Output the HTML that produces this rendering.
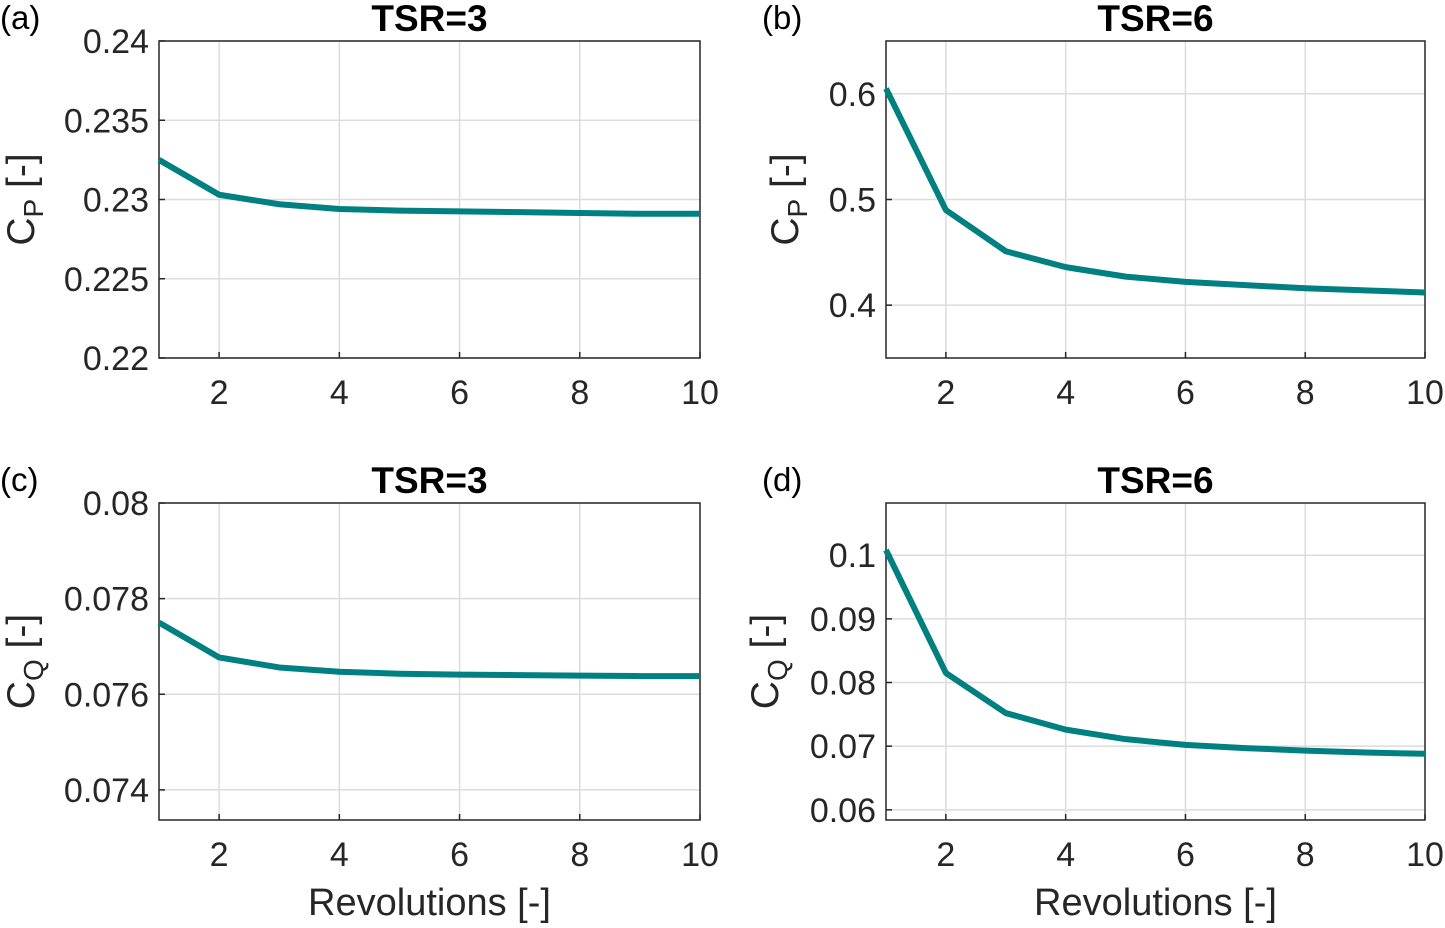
<!DOCTYPE html>
<html><head><meta charset="utf-8"><style>
body{margin:0;background:#fff;}
svg{font-family:"Liberation Sans",Arial,sans-serif;}
</style></head><body>
<svg id="chart" width="1445" height="923" xmlns="http://www.w3.org/2000/svg"></svg>
<script>
const revolutions=[1,2,3,4,5,6,7,8,9,10];
const cpTsr3=[0.2325,0.2303,0.2297,0.2294,0.2293,0.22925,0.2292,0.22915,0.2291,0.2291];
const cpTsr6=[0.605,0.490,0.451,0.436,0.427,0.422,0.419,0.416,0.414,0.412];
const cqTsr3=[0.07750,0.07677,0.07656,0.07647,0.07643,0.07641,0.07640,0.07639,0.07638,0.07638];
const cqTsr6=[0.1008,0.0815,0.0752,0.0726,0.0711,0.0702,0.0697,0.0693,0.0690,0.0688];
const xTicks=[2,4,6,8,10];
const yTicksA=[0.22,0.225,0.23,0.235,0.24];
const yTicksB=[0.4,0.5,0.6];
const yTicksC=[0.074,0.076,0.078,0.08];
const yTicksD=[0.06,0.07,0.08,0.09,0.1];
const NS="http://www.w3.org/2000/svg";
const svg=document.getElementById('chart');
function mk(t,a,p){const e=document.createElementNS(NS,t);for(const k in a)e.setAttribute(k,a[k]);(p||svg).appendChild(e);return e;}
const panels=[
 {id:'a',x0:159,x1:700,y0:41,y1:358,ymin:0.22,ymax:0.24,data:cpTsr3,ticks:yTicksA,title:'TSR=3',lab:'(a)',lx:0,q:'P',xl:false,yx:20},
 {id:'b',x0:886,x1:1425,y0:41,y1:358,ymin:0.35,ymax:0.65,data:cpTsr6,ticks:yTicksB,title:'TSR=6',lab:'(b)',lx:762,q:'P',xl:false,yx:784},
 {id:'c',x0:159,x1:700,y0:503,y1:820,ymin:0.07337,ymax:0.08,data:cqTsr3,ticks:yTicksC,title:'TSR=3',lab:'(c)',lx:0,q:'Q',xl:true,yx:20},
 {id:'d',x0:886,x1:1425,y0:503,y1:820,ymin:0.0584,ymax:0.1082,data:cqTsr6,ticks:yTicksD,title:'TSR=6',lab:'(d)',lx:762,q:'Q',xl:true,yx:764}];
panels.forEach(p=>{
 const g=mk('g',{});
 
 
 const sx=v=>p.x0+(v-1)/9*(p.x1-p.x0);
 const sy=v=>p.y1-(v-p.ymin)/(p.ymax-p.ymin)*(p.y1-p.y0);
 xTicks.forEach(t=>{const X=sx(t);
  if(t<10){const l=mk('line',{x1:X,x2:X,y1:p.y0,y2:p.y1,stroke:'#dcdcdc','stroke-width':1.5},g);}
  mk('line',{x1:X,x2:X,y1:p.y1,y2:p.y1-6,stroke:'#262626','stroke-width':1.5},g);
  const tx=mk('text',{x:X,y:p.y1+46,'font-size':34,'text-anchor':'middle',fill:'#262626'},g);tx.textContent=t;
  
 });
 p.ticks.forEach(t=>{const Y=sy(t);
  const l=mk('line',{x1:p.x0,x2:p.x1,y1:Y,y2:Y,stroke:'#dcdcdc','stroke-width':1.5},g);
  mk('line',{x1:p.x0,x2:p.x0+6,y1:Y,y2:Y,stroke:'#262626','stroke-width':1.5},g);
  const tx=mk('text',{x:p.x0-10,y:Y+12,'font-size':34,'text-anchor':'end',fill:'#262626'},g);tx.textContent=String(t);
  
 });
 const r=mk('rect',{x:p.x0,y:p.y0,width:p.x1-p.x0,height:p.y1-p.y0,fill:'none',stroke:'#262626','stroke-width':1.5},g);
 
 const pts=p.data.map((v,i)=>sx(revolutions[i])+','+sy(v)).join(' ');
 const pl=mk('polyline',{points:pts,fill:'none',stroke:'#008080','stroke-width':6,'stroke-linejoin':'round'},g);
 
 const ti=mk('text',{x:(p.x0+p.x1)/2,y:p.y0-10,'font-size':37,'font-weight':'bold','text-anchor':'middle',fill:'#000'},g);ti.textContent=p.title;
 
 const lb=mk('text',{x:p.lx,y:p.y0-12,'font-size':33,fill:'#000'},g);lb.textContent=p.lab;
 
 const yl=mk('text',{transform:'translate('+(p.yx+14)+','+((p.y0+p.y1)/2)+') rotate(-90)','font-size':39,'text-anchor':'middle',fill:'#262626'},g);
 yl.innerHTML='C<tspan font-size="28" dy="9">'+p.q+'</tspan><tspan dy="-9"> [-]</tspan>';
 
 if(p.xl){const xl=mk('text',{x:(p.x0+p.x1)/2,y:p.y1+95,'font-size':38,'text-anchor':'middle',fill:'#262626'},g);xl.textContent='Revolutions [-]';
  }
});
</script>
</body></html>
